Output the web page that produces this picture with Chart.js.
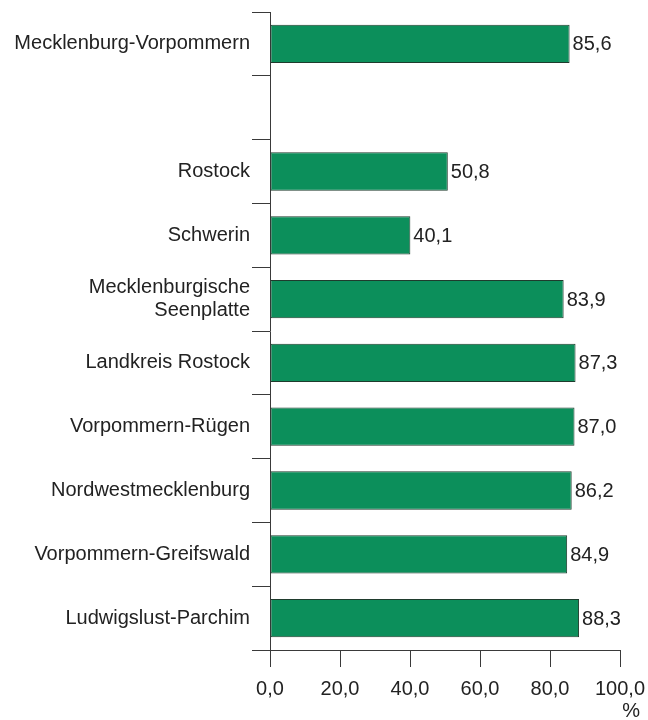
<!DOCTYPE html>
<html>
<head>
<meta charset="utf-8">
<script src="https://cdn.jsdelivr.net/npm/chart.js@4/dist/chart.umd.min.js"></script>
<style>
  html, body { margin: 0; padding: 0; background: #fff; }
  #wrap { width: 648px; height: 720px; }
</style>
</head>
<body>
<div id="wrap"><canvas id="myChart" width="648" height="720"></canvas></div>
<script>
// categories (empty slot between the state and the districts)
const regions = [
  'Mecklenburg-Vorpommern',
  '',
  'Rostock',
  'Schwerin',
  ['Mecklenburgische', 'Seenplatte'],
  'Landkreis Rostock',
  'Vorpommern-Rügen',
  'Nordwestmecklenburg',
  'Vorpommern-Greifswald',
  'Ludwigslust-Parchim'
];
const shares = [85.6, null, 50.8, 40.1, 83.9, 87.3, 87.0, 86.2, 84.9, 88.3];
const xTicks = [0, 20, 40, 60, 80, 100];

const fmt = v => v.toFixed(1).replace('.', ',');
const lineCol = '#3a3a3a';
const txtCol = '#222';
const fam = '"Liberation Sans", Arial, sans-serif';

const valueLabels = {
  id: 'valueLabels',
  afterDatasetsDraw(chart) {
    const ctx = chart.ctx;
    const meta = chart.getDatasetMeta(0);
    ctx.save();
    ctx.font = '20px ' + fam;
    ctx.fillStyle = txtCol;
    ctx.textAlign = 'left';
    ctx.textBaseline = 'middle';
    meta.data.forEach((bar, i) => {
      if (shares[i] == null) return;
      ctx.fillText(fmt(shares[i]), bar.x + 3, bar.y + 1);
    });
    // unit under the axis
    const x = chart.scales.x;
    ctx.textAlign = 'right';
    ctx.fillText('%', x.right + 20, 711);
    ctx.restore();
  }
};

const config = {
  type: 'bar',
  data: {
    labels: regions,
    datasets: [{
      data: shares,
      backgroundColor: '#0c8f5b',
      borderColor: '#1f3b2d',
      borderWidth: 1,
      borderSkipped: false,
      barPercentage: 0.6,
      categoryPercentage: 1
    }]
  },
  plugins: [valueLabels],
  options: {
    indexAxis: 'y',
    responsive: false,
    animation: false,
    layout: { padding: { top: 12, right: 28, left: 0, bottom: 0 } },
    plugins: {
      legend: { display: false },
      tooltip: { enabled: false }
    },
    scales: {
      x: {
        min: 0,
        max: 100,
        afterBuildTicks: s => { s.ticks = xTicks.map(v => ({ value: v })); },
        afterFit: s => { s.height = 70; s.paddingLeft = 0; s.paddingRight = 0; },
        border: { color: lineCol, width: 1 },
        grid: { drawOnChartArea: false, tickLength: 17, color: lineCol, tickColor: lineCol },
        ticks: {
          color: txtCol,
          padding: 10,
          maxRotation: 0,
          font: { family: fam, size: 20 },
          callback: v => fmt(v)
        }
      },
      y: {
        afterFit: s => { s.width = 270; s.paddingTop = 0; s.paddingBottom = 0; },
        border: { color: lineCol, width: 1 },
        grid: { offset: true, drawOnChartArea: false, tickLength: 18, color: lineCol, tickColor: lineCol },
        ticks: {
          color: txtCol,
          padding: 2,
          autoSkip: false,
          font: { family: fam, size: 20, lineHeight: 1.15 }
        }
      }
    }
  }
};

new Chart(document.getElementById('myChart'), config);
</script>
</body>
</html>
